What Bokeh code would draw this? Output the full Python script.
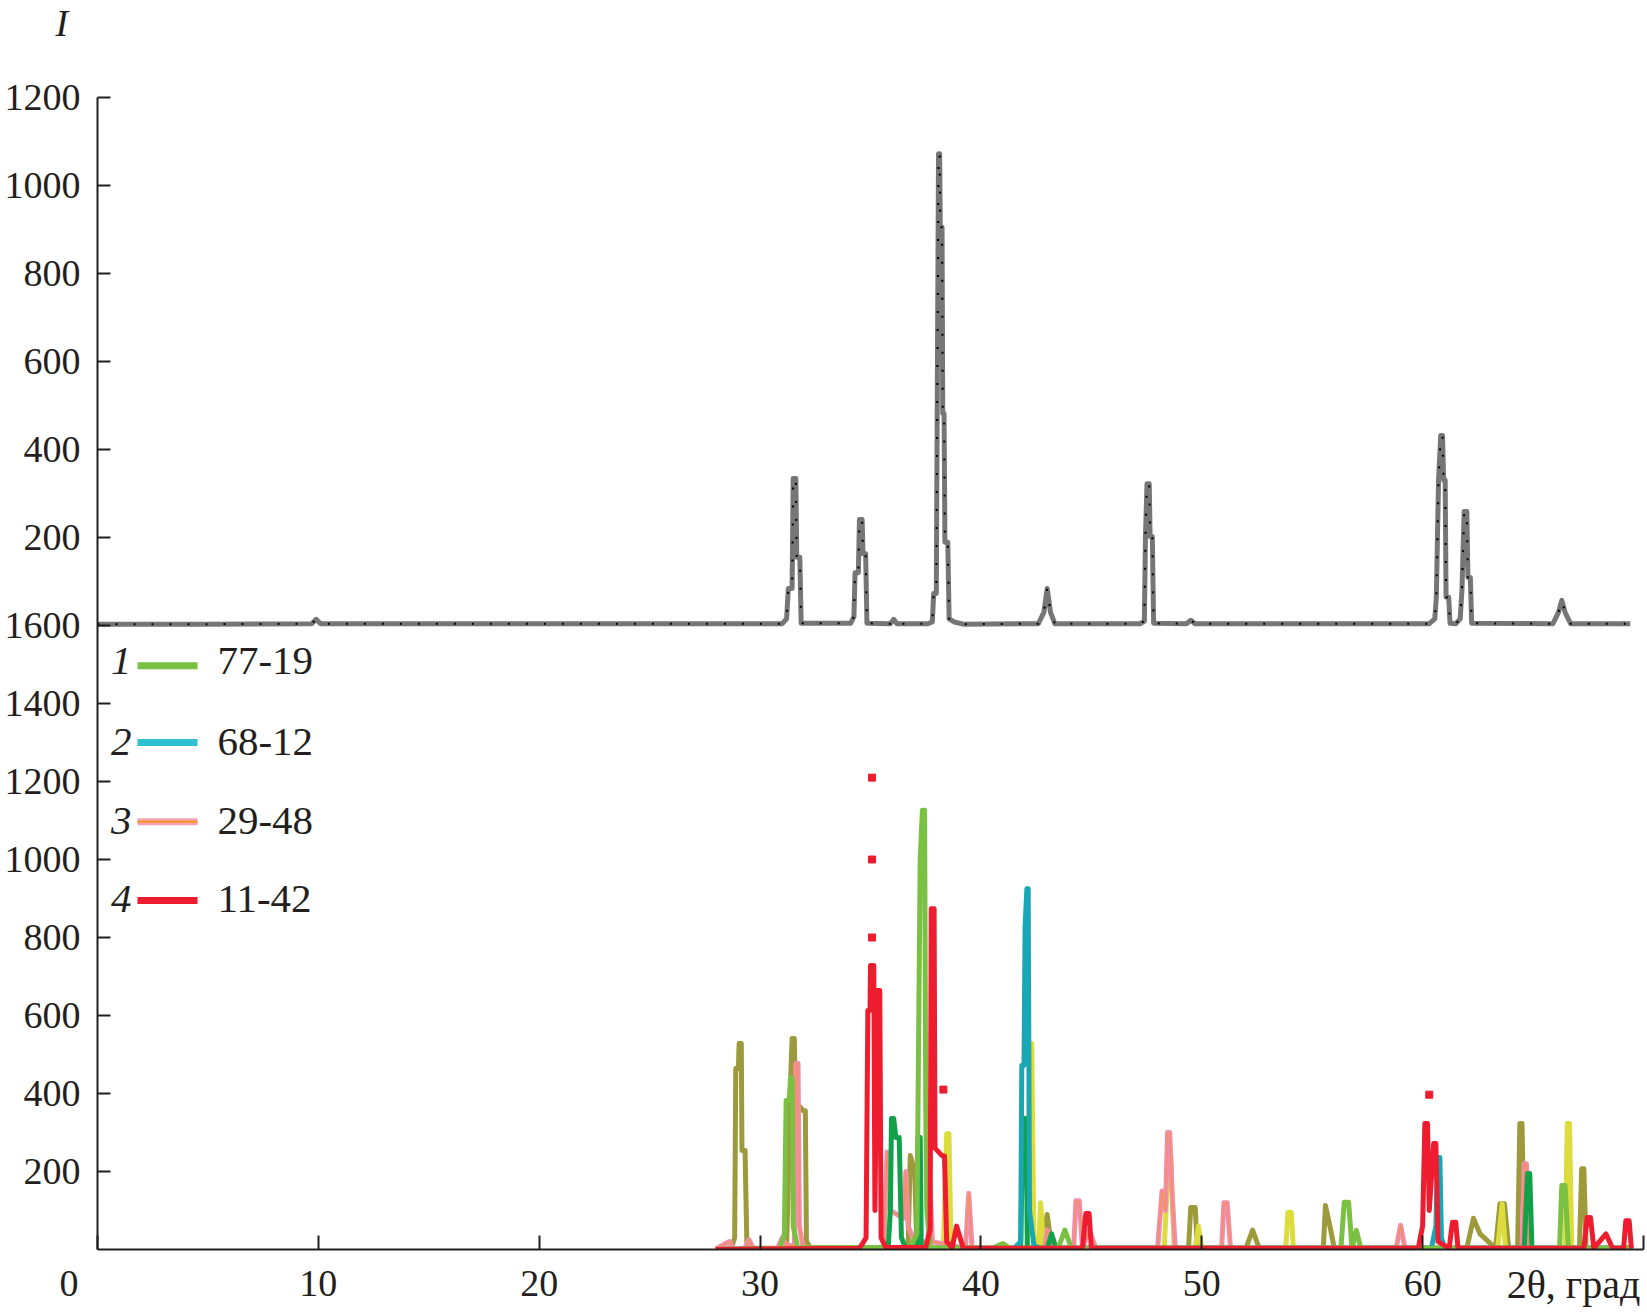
from bokeh.plotting import figure
from bokeh.models import Range1d, FixedTicker, CustomJSTickFormatter
from bokeh.embed import file_html
from bokeh.resources import INLINE
from bokeh.core.properties import value

# ---------------- data ----------------
# upper panel: sample diffractogram (2theta, I)
top_x = [0, 4.9, 9.7, 9.9, 10.1, 20, 28, 31.0, 31.2, 31.28, 31.45, 31.5, 31.62, 31.66, 31.8, 31.86,
         34.1, 34.25, 34.3, 34.45, 34.5, 34.62, 34.66, 34.78, 34.84, 35.9, 36.05, 36.2,
         37.6, 37.8, 37.86, 37.98, 38.02, 38.08, 38.13, 38.16, 38.24, 38.27, 38.33, 38.37, 38.5, 38.56, 38.8, 39.2,
         42.6, 42.85, 43.0, 43.15, 43.35, 47.2, 47.4, 47.45, 47.52, 47.62, 47.66, 47.76, 47.82,
         49.3, 49.5, 49.7, 60.3, 60.55, 60.62, 60.72, 60.82, 60.9, 60.95, 61.02, 61.06, 61.18, 61.24,
         61.5, 61.7, 61.78, 61.88, 62.0, 62.05, 62.16, 62.22, 65.9, 66.15, 66.3, 66.45, 66.7, 69.4]
top_y = [3, 3, 4, 14, 4, 4, 4, 4, 15, 84, 84, 334, 334, 155, 155, 5,
         5, 20, 120, 120, 241, 241, 163, 163, 5, 4, 14, 4,
         4, 8, 73, 73, 482, 1072, 1072, 905, 905, 482, 482, 189, 189, 15, 8, 3,
         4, 30, 84, 30, 4, 4, 10, 202, 322, 322, 202, 202, 5,
         4, 12, 4, 4, 15, 64, 330, 432, 432, 330, 330, 64, 64, 5,
         4, 15, 80, 259, 259, 109, 109, 5, 4, 30, 57, 30, 4, 4]

# lower panel: reference patterns
s1_name = "77-19"
s1_x = [28, 30.9, 31.1, 31.18, 31.32, 31.38, 31.45, 31.5, 31.7, 36.8, 37.1, 37.25, 37.35, 37.45, 37.5, 37.55, 37.7,
        40.5, 41.0, 41.3, 43.5, 43.8, 44.1, 56.3, 56.45, 56.65, 56.8, 57.0, 57.2, 66.2, 66.3, 66.45, 66.6, 69.5]
s1_y = [0, 3, 40, 382, 382, 440, 440, 60, 5, 5, 40, 1000, 1126, 1126, 380, 100, 5,
        3, 15, 3, 3, 50, 3, 3, 121, 121, 3, 49, 3, 3, 164, 164, 3, 3]

s2_name = "68-12"
s2_x = [28, 41.5, 41.8, 41.85, 41.95, 42.0, 42.08, 42.14, 42.2, 42.4, 42.7, 60.4, 60.6, 60.68, 60.78, 60.85, 61.0, 69.5]
s2_y = [0, 3, 20, 472, 472, 830, 925, 925, 100, 10, 3, 3, 60, 236, 236, 30, 3, 3]

s3_name = "29-48"
s3_x = [28, 28.6, 28.8, 29.3, 29.5, 29.7, 30.8, 31.0, 31.2, 31.55, 31.62, 31.72, 31.78, 31.9, 32.0,
        35.6, 35.75, 35.9, 36.5, 36.6, 36.7, 37.0, 37.6, 37.7, 37.8, 39.3, 39.45, 39.6,
        42.9, 43.0, 43.3, 44.2, 44.3, 44.45, 44.6, 44.9, 45.2, 48.0, 48.2, 48.35, 48.45, 48.55, 48.65, 48.8,
        50.9, 51.0, 51.15, 51.3, 58.8, 59.0, 59.2, 64.5, 64.6, 64.7, 64.8, 69.5]
s3_y = [2, 20, 2, 2, 25, 2, 3, 30, 10, 10, 477, 477, 60, 20, 2,
        3, 250, 100, 80, 200, 60, 20, 20, 160, 20, 3, 144, 3,
        3, 50, 3, 3, 125, 125, 3, 50, 3, 3, 150, 100, 300, 300, 150, 3,
        3, 120, 120, 3, 3, 62, 3, 3, 220, 220, 3, 3]

s4_name = "11-42"
s4_x = [28, 34.5, 34.8, 34.88, 34.98, 35.0, 35.15, 35.2, 35.32, 35.42, 35.48, 35.7, 37.5, 37.7, 37.75, 37.88, 37.92,
        38.25, 38.35, 38.45, 38.7, 38.9, 39.2, 44.6, 44.75, 44.9, 45.0, 59.8, 60.0, 60.1, 60.22, 60.3, 60.5, 60.6, 60.7,
        61.2, 61.35, 61.5, 61.6, 67.3, 67.45, 67.6, 67.75, 68.3, 68.6, 69.1, 69.2, 69.35, 69.45]
s4_y = [0, 3, 30, 613, 613, 728, 728, 100, 664, 664, 30, 5, 5, 50, 874, 874, 260,
        240, 240, 20, 5, 60, 3, 3, 92, 92, 3, 3, 60, 323, 323, 100, 272, 272, 20,
        3, 70, 70, 3, 3, 82, 82, 3, 40, 3, 3, 74, 74, 3]
s4_dots_x = [35.07, 35.07, 35.07, 38.3, 60.3]
s4_dots_y = [800, 1000, 1210, 410, 397]

olive_x = [28, 28.7, 28.85, 28.9, 29.02, 29.05, 29.15, 29.18, 29.32, 29.4, 29.6, 31.2, 31.4, 31.45, 31.55, 31.6,
           31.95, 32.05, 32.1, 32.3, 36.7, 36.8, 37.0, 37.1, 42.8, 43.0, 43.2, 49.4, 49.5, 49.7, 49.8,
           52.0, 52.3, 52.6, 55.5, 55.6, 55.8, 56.0, 62.0, 62.3, 62.6, 63.3, 63.5, 63.7, 63.9,
           64.3, 64.4, 64.5, 64.6, 67.1, 67.2, 67.3, 67.4, 69.5]
olive_y = [0, 3, 30, 464, 464, 528, 528, 254, 254, 20, 3, 3, 460, 541, 541, 380,
           356, 356, 20, 3, 3, 241, 200, 3, 3, 90, 3, 3, 108, 108, 3,
           3, 50, 3, 3, 113, 60, 3, 3, 80, 40, 3, 117, 117, 3,
           3, 323, 323, 3, 3, 207, 207, 3, 3]

yellow_x = [28, 38.3, 38.45, 38.55, 38.65, 42.1, 42.22, 42.3, 42.4, 42.6, 42.7, 42.85, 48.3, 48.5, 48.6, 48.75,
            49.7, 49.85, 50.0, 53.8, 53.9, 54.05, 54.15, 63.4, 63.6, 63.75, 66.45, 66.55, 66.65, 66.75, 69.5]
yellow_y = [0, 3, 297, 297, 3, 3, 528, 528, 3, 3, 120, 3, 3, 236, 236, 3,
            3, 60, 3, 3, 95, 95, 3, 3, 117, 3, 3, 323, 323, 3, 3]

dkgreen_x = [28, 35.8, 35.9, 35.95, 36.05, 36.15, 36.3, 36.4, 36.6, 37.1, 37.15, 37.25, 37.3, 41.8, 41.9, 42.05, 42.1,
             43.0, 43.2, 43.4, 64.6, 64.75, 64.85, 64.95, 69.5]
dkgreen_y = [0, 3, 100, 336, 336, 287, 287, 30, 3, 3, 287, 287, 3, 3, 336, 336, 3,
             3, 40, 3, 3, 195, 195, 3, 3]

x_ticks = [0, 10, 20, 30, 40, 50, 60, 70]
top_tick_vals = [200, 400, 600, 800, 1000, 1200]
bot_tick_vals = [200, 400, 600, 800, 1000, 1200, 1400, 1600]
legend_nums = ["1", "2", "3", "4"]
legend_names = [s1_name, s2_name, s3_name, s4_name]
x_title = "2θ, град"
y_title = "I"

# ---------------- geometry ----------------
X_MAX = 70
TOP_MAX = 1200
FRAME_H = 1152
PX_TOP = 0.44   # px per unit, upper panel
PX_BOT = 0.39   # px per unit, lower panel
B_END = FRAME_H / PX_BOT
T_START = TOP_MAX - FRAME_H / PX_TOP
K = PX_TOP / PX_BOT

FONT = "Liberation Serif"
INK = "#231f20"

p = figure(width=1647, height=1315, x_range=Range1d(0, X_MAX), y_range=Range1d(0, B_END),
           output_backend="svg", toolbar_location=None,
           min_border_left=97, min_border_right=4, min_border_top=97, min_border_bottom=66)
p.extra_y_ranges = {"top": Range1d(T_START, TOP_MAX)}
p.grid.visible = False
p.outline_line_color = None
p.background_fill_color = "white"

# title "I" in the top-left corner (second, blank line lifts it up)
p.title.text = y_title + "\n\u00a0"
p.title.text_font = FONT
p.title.text_font_style = "italic"
p.title.text_font_size = "38px"
p.title.text_line_height = 1.27
p.title.text_color = INK
p.title.align = "left"
p.title.offset = -42
p.title.standoff = 0

# y axis (single line carrying both scales)
yt = bot_tick_vals + [1600 + v * K for v in top_tick_vals]
p.yaxis.ticker = FixedTicker(ticks=yt)
p.yaxis.formatter = CustomJSTickFormatter(args=dict(k=K), code="""
if (tick > 1600.5) { return String(Math.round((tick - 1600) / k)); }
return String(Math.round(tick));
""")
p.yaxis.bounds = (0, B_END)
for ax in (p.xaxis, p.yaxis):
    ax.axis_line_width = 2
    ax.axis_line_color = INK
    ax.major_tick_line_color = INK
    ax.major_tick_line_width = 2
    ax.major_tick_out = 0
    ax.minor_tick_in = 0
    ax.minor_tick_out = 0
    ax.major_label_text_font = FONT
    ax.major_label_text_font_size = "38px"
    ax.major_label_text_color = INK
p.yaxis.major_tick_in = 13
p.yaxis.major_label_standoff = 17
p.xaxis.major_tick_in = 14
p.xaxis.major_label_standoff = 12
p.xaxis.ticker = FixedTicker(ticks=x_ticks)
p.xaxis.major_label_overrides = {0: "0\u2003\u2002", 70: ""}
p.xaxis.bounds = (0, X_MAX)
xa = p.xaxis[0]
# the label is centred on the axis end; trailing blank space shifts the visible text left of it
xa.axis_label = x_title + "\u2003\u2003\u2003\u2002"
xa.axis_label_text_font = FONT
xa.axis_label_text_font_size = "40px"
xa.axis_label_text_font_style = "normal"
xa.axis_label_text_color = INK
xa.axis_label_align = "end"
xa.axis_label_standoff = -45

# upper panel
p.line(top_x, top_y, y_range_name="top", line_color="#767676", line_width=5, line_join="round")
p.line(top_x, top_y, y_range_name="top", line_color="black", line_width=2, line_dash="2 16")

# lower panel
lw = 5
p.line(olive_x, olive_y, line_color="#9c9a3a", line_width=lw, line_join="round")
p.line(yellow_x, yellow_y, line_color="#dcdc3c", line_width=lw, line_join="round")
p.line(s3_x, s3_y, line_color="#f28db2", line_width=lw, line_join="round")
p.line(s3_x, s3_y, line_color="#f7941d", line_width=1.2, line_join="round", line_alpha=0.7)
p.line(dkgreen_x, dkgreen_y, line_color="#12a14b", line_width=lw, line_join="round")
p.line(s2_x, s2_y, line_color="#1aa7b5", line_width=lw, line_join="round")
p.line(s1_x, s1_y, line_color="#7ac143", line_width=lw, line_join="round")
p.line(s4_x, s4_y, line_color="#ed1c2e", line_width=lw, line_join="round")
p.scatter(s4_dots_x, s4_dots_y, marker="square", size=7, color="#ed1c2e")

# legend (drawn by hand)
leg_y_text = [1510, 1302, 1100, 900]
leg_y_line = [1497, 1300, 1097, 895]
leg_cols = ["#7ac143", "#2ebfd0", "#f5a3b5", "#ed1c2e"]
p.segment(x0=[1.81] * 4, y0=leg_y_line, x1=[4.53] * 4, y1=leg_y_line, line_color=leg_cols, line_width=7)
p.segment(x0=[1.81], y0=[leg_y_line[2]], x1=[4.53], y1=[leg_y_line[2]], line_color="#f7941d", line_width=2)
p.text(x=[1.54] * 4, y=leg_y_text, text=legend_nums, text_font=value(FONT), text_font_style="italic",
       text_font_size="41px", text_align="right", text_baseline="middle", text_color=INK)
p.text(x=[5.43] * 4, y=leg_y_text, text=legend_names, text_font=value(FONT),
       text_font_size="41px", text_align="left", text_baseline="middle", text_color=INK)

open("out.html", "w").write(file_html(p, INLINE))
